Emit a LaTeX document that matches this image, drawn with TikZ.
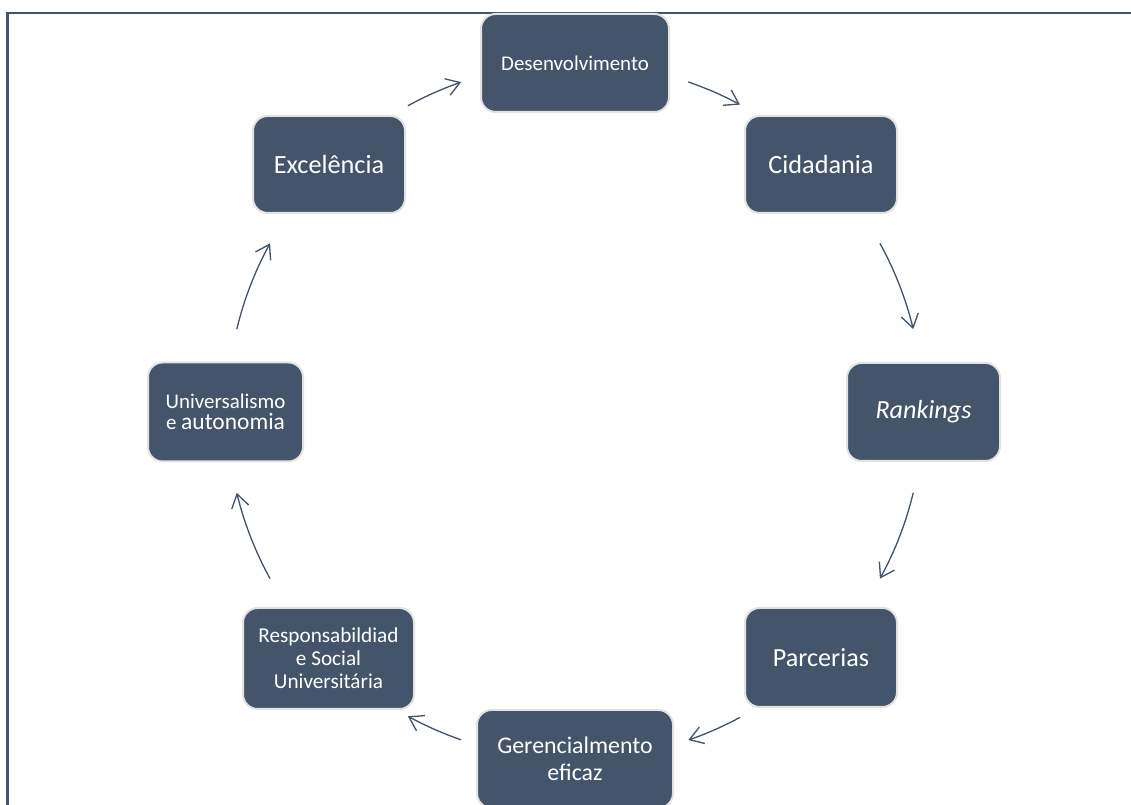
\documentclass[tikz,border=0pt]{standalone}
\usepackage{fontspec}
\setmainfont{Carlito}
\usetikzlibrary{arrows.meta}
\definecolor{slate}{RGB}{68,84,106}
\definecolor{rim}{RGB}{226,226,226}
\begin{document}
\begin{tikzpicture}[x=0.75pt,y=0.75pt,
  box/.style={draw=rim, line width=1.5pt, fill=slate, rounded corners=11pt,
    text=white, align=center, inner sep=0pt},
  arr/.style={draw=slate, line width=1pt, -{Straight Barb[length=10pt,width=13pt,line width=1pt]}},
  frame/.style={draw=slate, line width=1.6pt}]
\useasboundingbox (0,0) rectangle (1131,805);
\clip (0,0) rectangle (1131,805);
% frame
\coordinate (f1) at (7.5,-5);
\coordinate (f2) at (7.5,792.3);
\coordinate (f3) at (1140,792.3);
\draw[frame] (f1) -- (f2) -- (f3);
% centre of the cycle
\coordinate (C) at (575,394);
% nodes
\node[box, minimum width=141pt, minimum height=73.5pt, font=\fontsize{15.7}{17}\selectfont] (des) at (575,742) {Desenvolvimento};
\node[box, minimum width=114pt, minimum height=72.75pt, font=\fontsize{19.7}{22}\selectfont] (cid) at (821,640.5) {Cidadania};
\node[box, minimum width=114.75pt, minimum height=73.5pt, font=\fontsize{19.6}{22}\selectfont\itshape] (ran) at (923.5,393) {Rankings};
\node[box, minimum width=114pt, minimum height=74.25pt, font=\fontsize{19.6}{22}\selectfont] (par) at (821,147.5) {Parcerias};
\node[box, minimum width=147pt, minimum height=73.5pt, font=\fontsize{17.9}{20.3}\selectfont] (ger) at (575,46) {Gerencialmento\\eficaz};
\node[box, minimum width=128.25pt, minimum height=75.75pt, font=\fontsize{15.9}{17.3}\selectfont] (res) at (328.5,146.5) {Responsabildiad\\e Social\\Universitária};
\node[box, minimum width=116.25pt, minimum height=74.25pt, font=\fontsize{15.7}{15.5}\selectfont] (uni) at (225.5,393) {Universalismo\\e {\fontsize{17.6}{15.5}\selectfont autonomia}};
\node[box, minimum width=114pt, minimum height=72.75pt, font=\fontsize{19.7}{22}\selectfont] (exc) at (329,640.5) {Excelência};
% arc start points
\coordinate (a1) at ([shift={(118.7:261pt)}]C);
\coordinate (a2) at ([shift={(71:261pt)}]C);
\coordinate (a3) at ([shift={(28.8:261pt)}]C);
\coordinate (a4) at ([shift={(-13.6:261pt)}]C);
\coordinate (a5) at ([shift={(-61.7:261pt)}]C);
\coordinate (a6) at ([shift={(-109.1:261pt)}]C);
\coordinate (a7) at ([shift={(-151.2:261pt)}]C);
\coordinate (a8) at ([shift={(166.4:261pt)}]C);
% connectors (exc->des, des->cid, ...)
\draw[arr] (a1) arc[start angle=118.7, end angle=109.1, radius=261pt];
\draw[arr] (a2) arc[start angle=71, end angle=61.7, radius=261pt];
\draw[arr] (a3) arc[start angle=28.8, end angle=13.6, radius=261pt];
\draw[arr] (a4) arc[start angle=-13.6, end angle=-28.8, radius=261pt];
\draw[arr] (a5) arc[start angle=-61.7, end angle=-71, radius=261pt];
\draw[arr] (a6) arc[start angle=-109.1, end angle=-118.7, radius=261pt];
\draw[arr] (a7) arc[start angle=-151.2, end angle=-166.4, radius=261pt];
\draw[arr] (a8) arc[start angle=166.4, end angle=151.2, radius=261pt];
\end{tikzpicture}
\end{document}
